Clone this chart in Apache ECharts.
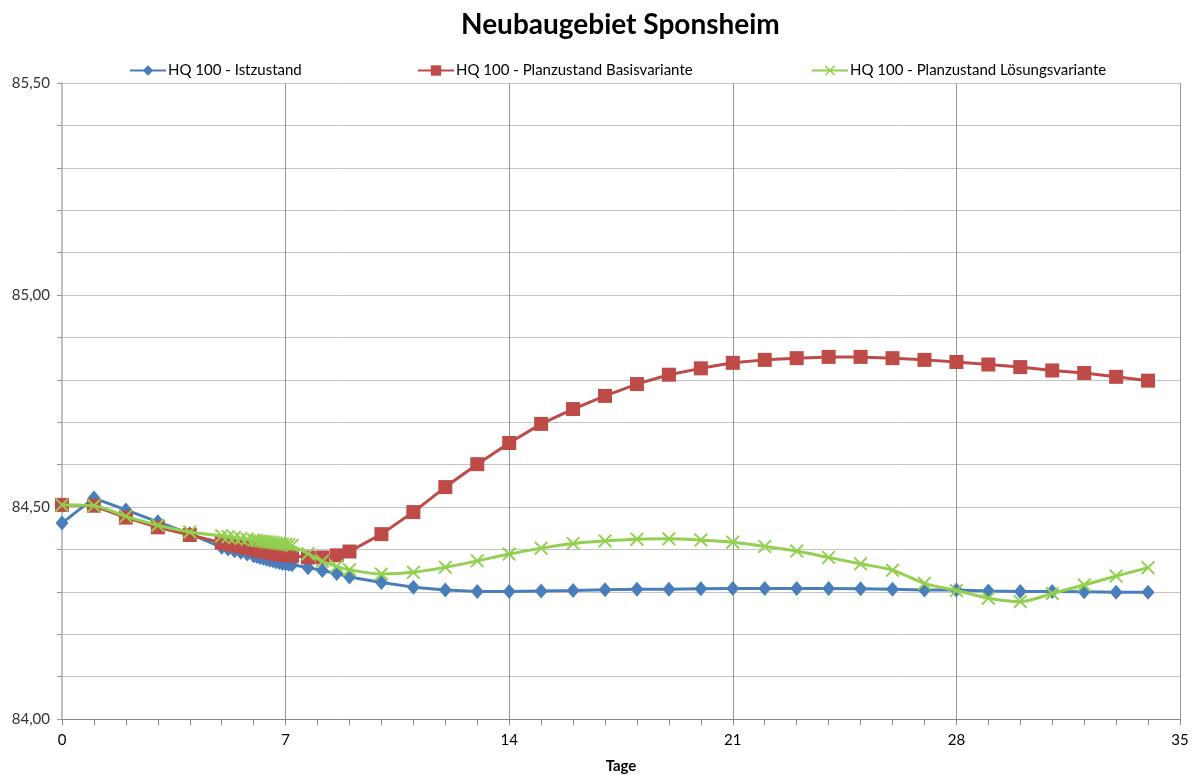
<!DOCTYPE html>
<html>
<head>
<meta charset="utf-8">
<script src="https://cdn.jsdelivr.net/npm/echarts@6/dist/echarts.min.js"></script>
<style>
  html, body { margin: 0; padding: 0; background: #fff; }
  #char { width: 1195px; height: 776px; }
</style>
</head>
<body>
<div id="char"></div>
<script>
// Neubaugebiet Sponsheim - Wasserspiegel über Tage
const tage = [0, 1, 2, 3, 4, 5, 5.2, 5.4, 5.6, 5.8,
  6.0, 6.1, 6.2, 6.3, 6.4, 6.5, 6.6, 6.7, 6.8, 6.9, 7.0, 7.1, 7.2,
  7.7, 8.15, 8.6, 9, 10, 11, 12, 13, 14, 15, 16, 17, 18, 19, 20, 21,
  22, 23, 24, 25, 26, 27, 28, 29, 30, 31, 32, 33, 34];

const istzustand = [84.462, 84.521, 84.493, 84.465, 84.437, 84.405, 84.401, 84.397, 84.393, 84.389,
  84.385, 84.383, 84.381, 84.379, 84.377, 84.375, 84.373, 84.371, 84.369, 84.367, 84.366, 84.365, 84.364,
  84.357, 84.350, 84.343, 84.335, 84.322, 84.311, 84.304, 84.301, 84.301, 84.302, 84.303, 84.305, 84.306, 84.306, 84.307, 84.308,
  84.308, 84.308, 84.308, 84.307, 84.306, 84.304, 84.304, 84.302, 84.301, 84.301, 84.300, 84.299, 84.299];

const basisvariante = [84.505, 84.503, 84.475, 84.452, 84.434, 84.416, 84.413, 84.410, 84.407, 84.404,
  84.401, 84.399, 84.397, 84.396, 84.394, 84.393, 84.391, 84.390, 84.389, 84.388, 84.387, 84.386, 84.385,
  84.381, 84.381, 84.386, 84.395, 84.436, 84.488, 84.547, 84.601, 84.651, 84.696, 84.731, 84.762, 84.790, 84.812, 84.827, 84.840,
  84.847, 84.851, 84.854, 84.854, 84.851, 84.847, 84.842, 84.836, 84.830, 84.822, 84.816, 84.807, 84.798];

const loesungsvariante = [84.505, 84.503, 84.478, 84.457, 84.441, 84.432, 84.430, 84.428, 84.426, 84.424,
  84.422, 84.421, 84.420, 84.419, 84.418, 84.417, 84.416, 84.415, 84.414, 84.413, 84.412, 84.411, 84.409,
  84.390, 84.372, 84.360, 84.352, 84.342, 84.346, 84.358, 84.373, 84.389, 84.403, 84.414, 84.420, 84.424, 84.425, 84.422, 84.417,
  84.407, 84.396, 84.381, 84.366, 84.351, 84.320, 84.303, 84.285, 84.277, 84.296, 84.316, 84.337, 84.357];

const namen = ['HQ 100 - Istzustand', 'HQ 100 - Planzustand Basisvariante', 'HQ 100 - Planzustand Lösungsvariante'];

const font = 'Lato, "Open Sans", sans-serif';
const xSymbol = 'path://M0,1L1,0L5,4L9,0L10,1L6,5L10,9L9,10L5,6L1,10L0,9L4,5Z';

function pairs(ys) {
  return tage.map((t, i) => [t, ys[i]]);
}

const charEch = echarts.init(document.getElementById('char'));
const option = {
  animation: false,
  textStyle: { fontFamily: font },
  title: {
    text: 'Neubaugebiet Sponsheim',
    left: 456,
    top: 6,
    textStyle: { fontSize: 28, fontWeight: 'bold', color: '#000', fontFamily: font }
  },
  legend: [
    { data: [namen[0]], left: 124, top: 58 },
    { data: [namen[1]], left: 412, top: 58 },
    { data: [namen[2]], left: 806, top: 58 }
  ].map(l => Object.assign(l, {
    itemWidth: 36,
    itemHeight: 13,
    itemGap: 4,
    textStyle: { fontSize: 15, color: '#000', fontFamily: font, padding: [0, 0, 0, -3] }
  })),
  grid: { left: 62, right: 15, top: 83, bottom: 57, outerBoundsMode: 'none' },
  xAxis: {
    type: 'value',
    min: 0,
    max: 35,
    interval: 7,
    name: 'Tage',
    nameLocation: 'middle',
    nameGap: 40,
    nameTextStyle: { fontSize: 15, fontWeight: 'bold', color: '#000' },
    axisLine: { show: true, lineStyle: { color: '#868686', width: 1 } },
    axisTick: { show: true, length: 6, lineStyle: { color: '#868686' } },
    minorTick: { show: true, splitNumber: 7, length: 6, lineStyle: { color: '#868686' } },
    axisLabel: { fontSize: 15, color: '#000', margin: 14 },
    splitLine: { show: true, lineStyle: { color: '#969696', width: 1 } }
  },
  yAxis: {
    type: 'value',
    min: 84,
    max: 85.5,
    interval: 0.1,
    axisLine: { show: true, lineStyle: { color: '#bfbfbf', width: 2 } },
    axisTick: { show: true, length: 5, lineStyle: { color: '#969696' } },
    axisLabel: {
      fontSize: 15,
      color: '#333',
      margin: 12,
      formatter: function (v) {
        const d = v * 2;
        return Math.abs(d - Math.round(d)) < 1e-6 ? v.toFixed(2).replace('.', ',') : '';
      }
    },
    splitLine: { show: true, lineStyle: { color: '#c4c4c4', width: 1 } }
  },
  series: [
    {
      name: namen[0],
      type: 'line',
      data: pairs(istzustand),
      symbol: 'diamond',
      symbolSize: [13, 15],
      lineStyle: { color: '#4a7ebb', width: 3 },
      itemStyle: { color: '#4a7ebb' },
      z: 2
    },
    {
      name: namen[1],
      type: 'line',
      data: pairs(basisvariante),
      symbol: 'rect',
      symbolSize: 14,
      lineStyle: { color: '#be4b48', width: 3 },
      itemStyle: { color: '#be4b48' },
      z: 3
    },
    {
      name: namen[2],
      type: 'line',
      data: pairs(loesungsvariante),
      smooth: 0.3,
      symbol: xSymbol,
      symbolSize: 14,
      lineStyle: { color: '#92d050', width: 3 },
      itemStyle: { color: '#92d050' },
      z: 4
    }
  ]
};
charEch.setOption(option, true);
</script>
</body>
</html>
